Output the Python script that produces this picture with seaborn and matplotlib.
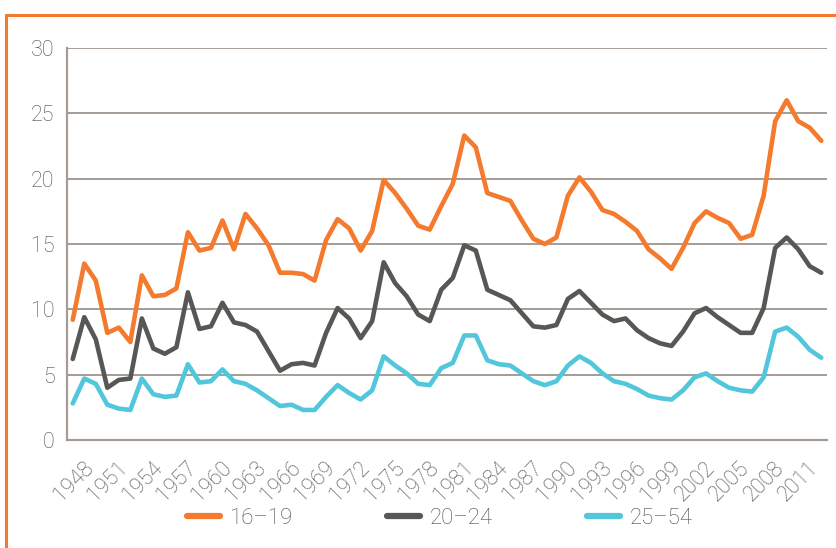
import matplotlib
matplotlib.use("Agg")
import matplotlib.pyplot as plt
from matplotlib.lines import Line2D
import numpy as np
import pandas as pd
import seaborn as sns

# === Datos (tasa de desempleo por grupo de edad, %) ===
years = list(range(1948, 2014))

age_16_19 = [9.2, 13.5, 12.2, 8.2, 8.6, 7.5, 12.6, 11.0, 11.1, 11.6,
             15.9, 14.5, 14.7, 16.8, 14.6, 17.3, 16.2, 14.9, 12.8, 12.8,
             12.7, 12.2, 15.3, 16.9, 16.2, 14.5, 16.0, 19.9, 18.9, 17.7,
             16.4, 16.1, 17.9, 19.6, 23.3, 22.4, 18.9, 18.6, 18.3, 16.8,
             15.4, 15.0, 15.5, 18.7, 20.1, 19.0, 17.6, 17.3, 16.7, 16.0,
             14.6, 13.9, 13.1, 14.7, 16.6, 17.5, 17.0, 16.6, 15.4, 15.7,
             18.7, 24.4, 26.0, 24.4, 23.9, 22.9]

age_20_24 = [6.2, 9.4, 7.7, 4.0, 4.6, 4.7, 9.3, 7.0, 6.6, 7.1,
             11.3, 8.5, 8.7, 10.5, 9.0, 8.8, 8.3, 6.8, 5.3, 5.8,
             5.9, 5.7, 8.2, 10.1, 9.3, 7.8, 9.1, 13.6, 12.0, 11.0,
             9.6, 9.1, 11.5, 12.4, 14.9, 14.5, 11.5, 11.1, 10.7, 9.7,
             8.7, 8.6, 8.8, 10.8, 11.4, 10.5, 9.6, 9.1, 9.3, 8.4,
             7.8, 7.4, 7.2, 8.3, 9.7, 10.1, 9.4, 8.8, 8.2, 8.2,
             10.1, 14.7, 15.5, 14.6, 13.3, 12.8]

age_25_54 = [2.8, 4.7, 4.3, 2.7, 2.4, 2.3, 4.7, 3.5, 3.3, 3.4,
             5.8, 4.4, 4.5, 5.4, 4.5, 4.3, 3.8, 3.2, 2.6, 2.7,
             2.3, 2.3, 3.3, 4.2, 3.6, 3.1, 3.8, 6.4, 5.7, 5.1,
             4.3, 4.2, 5.5, 5.9, 8.0, 8.0, 6.1, 5.8, 5.7, 5.1,
             4.5, 4.2, 4.5, 5.7, 6.4, 5.9, 5.1, 4.5, 4.3, 3.9,
             3.4, 3.2, 3.1, 3.8, 4.8, 5.1, 4.5, 4.0, 3.8, 3.7,
             4.8, 8.3, 8.6, 7.9, 6.9, 6.3]

series_names = ["16\u201319", "20\u201324", "25\u201354"]
colors = ["#F47A2E", "#575756", "#52C6DB"]
y_ticks = [0, 5, 10, 15, 20, 25, 30]
label_step = 3

GRIS = "#A59D95"
TEXTO = "#4A4A4A"

# tabla larga para seaborn
idx = np.arange(len(years))
df = pd.concat([
    pd.DataFrame({"i": idx, "valor": vals, "grupo": nombre})
    for nombre, vals in zip(series_names, [age_16_19, age_20_24, age_25_54])
])

sns.set_style("white")
plt.rcParams["font.family"] = ["Roboto", "DejaVu Sans"]
plt.rcParams["font.weight"] = "light"

fig = plt.figure(figsize=(8.36, 5.48), dpi=100)
ax = fig.add_axes([67 / 836, 108 / 548, 760 / 836, 392 / 548])

sns.lineplot(data=df, x="i", y="valor", hue="grupo", palette=colors,
             linewidth=3.3, ax=ax, legend=False, sort=False)
for ln in ax.lines:
    ln.set_solid_joinstyle("round")
    ln.set_solid_capstyle("round")

ax.set_xlim(-0.5, len(years) - 0.5)
ax.set_ylim(0, 30)
ax.set_xlabel(""); ax.set_ylabel("")

# rejilla horizontal
ax.set_yticks(y_ticks)
ax.set_yticklabels([str(v) for v in y_ticks])
ax.yaxis.grid(True, color=GRIS, linewidth=1.4)
ax.xaxis.grid(False)
ax.set_axisbelow(True)
ax.tick_params(axis="y", length=0, pad=9, labelsize=15.5, labelcolor=TEXTO)

# marcas del eje x entre categorias, etiquetas cada 3 anios
pos_lab = idx[::label_step]
ax.set_xticks(pos_lab + 1.5)
ax.set_xticklabels([str(years[i]) for i in pos_lab], rotation=45,
                   ha="right", va="center", rotation_mode="anchor")
ax.set_xticks(np.arange(-0.5, len(years), label_step), minor=True)
ax.tick_params(axis="x", which="major", length=0, pad=18,
               labelsize=15.5, labelcolor=TEXTO)
ax.tick_params(axis="x", which="minor", direction="in", length=9.5,
               width=1.3, color=GRIS)

for s in ["top", "right"]:
    ax.spines[s].set_visible(False)
for s in ["left", "bottom"]:
    ax.spines[s].set_color(GRIS)
    ax.spines[s].set_linewidth(1.6)

# leyenda
handles = [Line2D([0], [0], color=c, lw=4.5, solid_capstyle="round")
           for c in colors]
fig.legend(handles, series_names, loc="center", bbox_to_anchor=(440 / 836, 30 / 548),
           ncol=3, frameon=False, fontsize=16, handlelength=1.5,
           handletextpad=0.45, columnspacing=4.2, labelcolor=TEXTO)

# marco naranja
fig.add_artist(Line2D([6 / 836, 1.0], [1 - 15 / 548, 1 - 15 / 548],
                      transform=fig.transFigure, color="#F47A2E", lw=2.2))
fig.add_artist(Line2D([6 / 836, 6 / 836], [0, 1 - 15 / 548],
                      transform=fig.transFigure, color="#F47A2E", lw=2.2))

fig.savefig("out.png", dpi=100)
